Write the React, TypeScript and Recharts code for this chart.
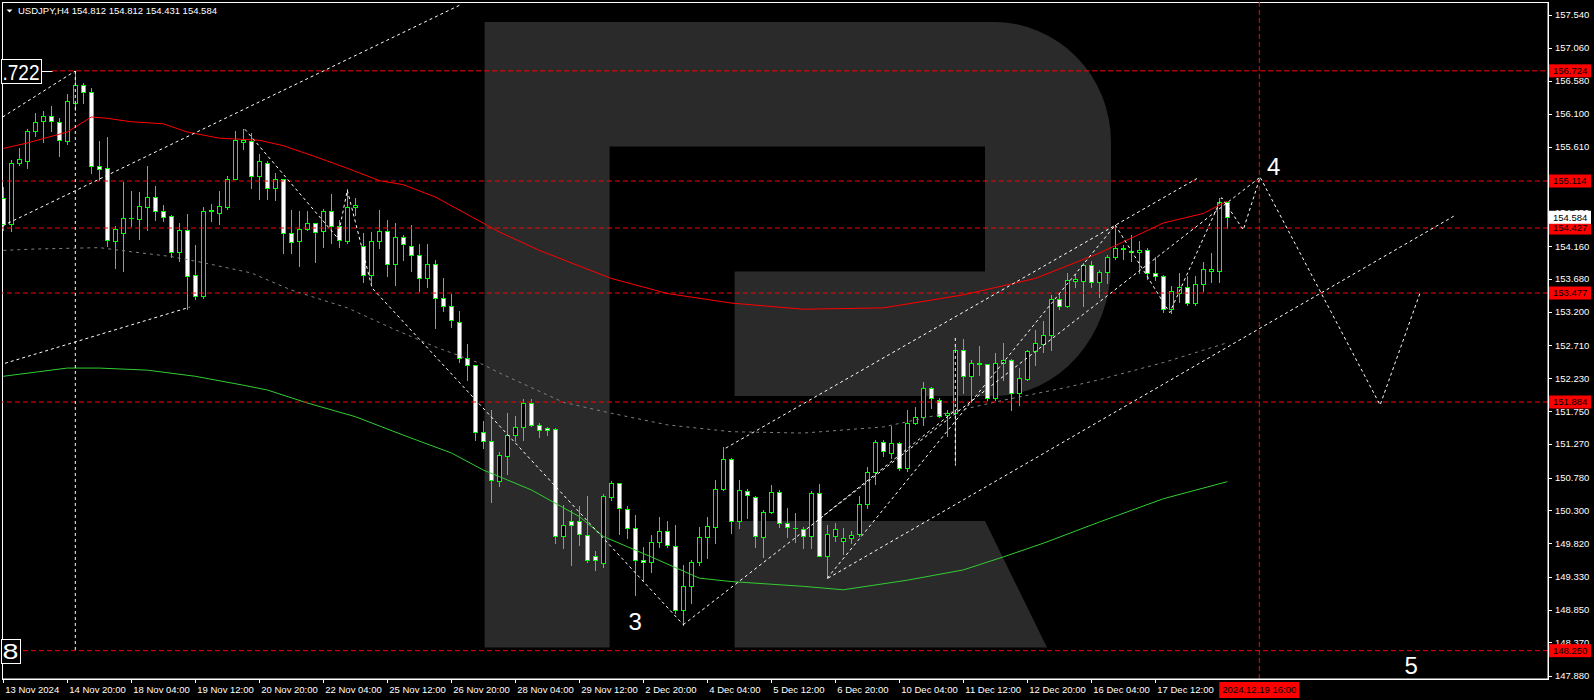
import React from 'react';
import { ComposedChart, Bar, Line, XAxis, YAxis, ReferenceLine, ReferenceDot } from 'recharts';

const FONT = "'Liberation Sans', Arial, sans-serif";
const LIME = '#00ff00';

// USDJPY H4 candles (bar 0 = 13 Nov 2024 16:00)
const opens = [
  154.86, 154.48, 155.37, 155.41, 155.84, 155.99, 156.07, 155.98, 155.70, 156.26,
  156.51, 156.42, 155.34, 155.30, 154.24, 154.35, 154.57, 154.56, 154.74, 154.88,
  154.67, 154.60, 154.08, 154.40, 153.74, 153.44, 154.67, 154.64, 154.74, 155.15,
  155.69, 155.70, 155.18, 155.37, 155.01, 155.14, 154.36, 154.23, 154.41, 154.50,
  154.39, 154.67, 154.46, 154.24, 154.73, 154.17, 153.74, 154.23, 154.39, 153.90,
  154.29, 154.17, 154.03, 153.69, 153.90, 153.40, 153.29, 153.06, 152.52, 152.42,
  151.45, 151.31, 150.73, 151.10, 151.40, 151.52, 151.87, 151.55, 151.50, 151.49,
  149.92, 150.14, 150.14, 149.94, 149.64, 149.53, 150.50, 150.70, 150.32, 150.05,
  149.57, 149.54, 149.84, 150.00, 149.78, 148.84, 149.19, 149.55, 149.91, 150.06,
  150.61, 151.05, 150.14, 150.59, 150.50, 149.91, 150.28, 150.57, 150.11, 150.05,
  150.03, 149.93, 150.55, 149.64, 149.93, 149.86, 149.89, 149.95, 150.39, 150.86,
  151.30, 151.14, 151.29, 150.92, 151.57, 151.66, 152.09, 151.92, 151.69, 151.73,
  152.65, 152.26, 152.44, 152.44, 151.94, 152.46, 152.50, 152.01, 152.22, 152.63,
  152.73, 152.86, 153.39, 153.28, 153.65, 153.65, 153.88, 153.64, 153.78, 154.00,
  154.12, 154.08, 154.08, 154.10, 153.77, 153.73, 153.24, 153.47, 153.56, 153.33,
  153.61, 153.80, 153.80, 154.812,
];
const highs = [
  155.03, 155.42, 155.59, 155.88, 156.11, 156.13, 156.21, 156.04, 156.39, 156.72,
  156.54, 156.47, 155.70, 155.75, 154.46, 155.10, 154.97, 154.96, 155.33, 155.04,
  154.76, 154.62, 154.50, 154.63, 154.18, 154.74, 154.78, 154.97, 155.19, 155.84,
  155.88, 155.81, 155.51, 155.41, 155.23, 155.15, 154.69, 154.68, 154.67, 154.50,
  154.71, 154.92, 154.54, 154.99, 154.86, 154.35, 154.37, 154.69, 154.54, 154.50,
  154.32, 154.47, 154.19, 154.19, 153.96, 153.69, 153.46, 153.21, 152.73, 152.42,
  151.60, 151.77, 151.16, 151.72, 151.68, 151.93, 151.93, 151.58, 151.52, 151.51,
  150.38, 150.31, 150.36, 150.51, 149.70, 150.54, 150.73, 150.70, 150.36, 150.23,
  149.77, 149.94, 150.21, 150.15, 150.09, 149.50, 149.57, 150.06, 150.21, 150.75,
  151.22, 151.06, 150.75, 150.61, 150.51, 150.30, 150.67, 150.60, 150.33, 150.26,
  150.06, 150.58, 150.69, 150.09, 150.11, 150.04, 150.00, 150.51, 150.94, 151.33,
  151.33, 151.54, 151.30, 151.77, 151.81, 152.17, 152.11, 151.94, 151.77, 152.69,
  152.81, 152.50, 152.70, 152.44, 152.60, 152.74, 152.51, 152.38, 152.65, 152.94,
  153.07, 153.45, 153.48, 153.77, 153.76, 153.91, 153.95, 153.81, 154.03, 154.47,
  154.18, 154.32, 154.24, 154.14, 154.00, 153.74, 153.58, 153.77, 153.72, 153.72,
  153.93, 154.06, 154.87, 154.812,
];
const lows = [
  154.40, 154.38, 155.35, 155.30, 155.77, 155.68, 155.85, 155.48, 155.66, 156.15,
  156.25, 155.23, 155.13, 154.16, 153.84, 153.80, 154.45, 154.27, 154.40, 154.55,
  154.53, 154.00, 153.94, 153.24, 153.39, 153.41, 154.53, 154.49, 154.70, 155.14,
  155.58, 155.01, 154.85, 154.85, 154.84, 154.06, 154.06, 153.87, 154.40, 153.93,
  154.15, 154.21, 154.15, 154.21, 154.62, 153.64, 153.62, 154.13, 153.73, 153.60,
  153.96, 153.80, 153.51, 153.57, 152.96, 153.22, 152.98, 152.47, 152.21, 151.33,
  151.21, 150.43, 150.65, 150.83, 151.32, 151.33, 151.54, 151.38, 151.40, 149.83,
  149.75, 149.50, 149.80, 149.55, 149.43, 149.47, 150.45, 149.96, 149.89, 149.06,
  149.28, 149.40, 149.77, 149.77, 148.80, 148.63, 148.94, 149.50, 149.61, 149.82,
  150.60, 149.97, 150.04, 150.19, 149.77, 149.62, 150.26, 150.06, 149.91, 149.84,
  149.75, 149.75, 149.63, 149.31, 149.86, 149.66, 149.82, 149.93, 150.33, 150.69,
  151.10, 151.06, 150.89, 150.87, 151.56, 151.55, 151.79, 151.67, 151.39, 150.97,
  152.02, 151.89, 152.28, 151.91, 151.91, 152.21, 151.77, 151.84, 152.21, 152.43,
  152.62, 152.64, 153.24, 153.27, 153.57, 153.29, 153.57, 153.42, 153.62, 153.98,
  153.98, 153.94, 153.77, 153.68, 153.67, 153.20, 153.18, 153.34, 153.30, 153.30,
  153.51, 153.64, 153.64, 154.431,
];
const closes = [
  154.49, 155.38, 155.43, 155.84, 155.98, 156.07, 155.99, 155.71, 156.28, 156.51,
  156.42, 155.34, 155.29, 154.25, 154.41, 154.57, 154.58, 154.75, 154.88, 154.67,
  154.59, 154.08, 154.40, 153.73, 153.44, 154.68, 154.69, 154.75, 155.15, 155.72,
  155.72, 155.18, 155.41, 155.01, 155.15, 154.36, 154.22, 154.41, 154.50, 154.37,
  154.67, 154.46, 154.25, 154.73, 154.76, 153.74, 154.24, 154.39, 153.90, 154.29,
  154.19, 154.03, 153.69, 153.90, 153.40, 153.29, 153.08, 152.52, 152.42, 151.45,
  151.31, 150.74, 151.11, 151.40, 151.52, 151.87, 151.55, 151.47, 151.47, 149.93,
  150.08, 150.08, 149.95, 149.57, 149.57, 150.51, 150.70, 150.33, 150.05, 149.57,
  149.54, 149.84, 150.00, 149.79, 148.84, 149.19, 149.55, 149.91, 150.07, 150.61,
  151.05, 150.14, 150.60, 150.53, 149.92, 150.28, 150.57, 150.11, 150.06, 150.04,
  149.93, 150.55, 149.64, 149.95, 150.03, 149.89, 149.94, 150.39, 150.86, 151.30,
  151.17, 151.29, 150.92, 151.57, 151.66, 152.09, 151.94, 151.68, 151.73, 152.65,
  152.26, 152.46, 152.46, 151.94, 152.46, 152.50, 152.01, 152.23, 152.63, 152.74,
  152.86, 153.39, 153.28, 153.67, 153.68, 153.88, 153.64, 153.78, 154.00, 154.13,
  154.13, 154.09, 154.11, 153.77, 153.73, 153.24, 153.51, 153.56, 153.33, 153.61,
  153.83, 153.83, 154.80, 154.584,
];

// time axis
const timeTicks = [0, 8, 16, 24, 32, 40, 48, 56, 64, 72, 80, 88, 96, 104, 112, 120, 128, 136, 144];
const timeLabels = [
  '13 Nov 2024', '14 Nov 20:00', '18 Nov 04:00', '19 Nov 12:00', '20 Nov 20:00', '22 Nov 04:00',
  '25 Nov 12:00', '26 Nov 20:00', '28 Nov 04:00', '29 Nov 12:00', '2 Dec 20:00', '4 Dec 04:00',
  '5 Dec 12:00', '6 Dec 20:00', '10 Dec 04:00', '11 Dec 12:00', '12 Dec 20:00', '16 Dec 04:00',
  '17 Dec 12:00',
];
const futureBar = 157;
const futureLabel = '2024.12.19 16:00';

// price axis
const priceTicks = [
  157.54, 157.06, 156.58, 156.1, 155.61, 154.65, 154.16, 153.68, 153.2, 152.71,
  152.23, 151.75, 151.27, 150.78, 150.3, 149.82, 149.33, 148.85, 148.37, 147.88,
];
const levels = [156.724, 155.114, 154.427, 153.477, 151.884, 148.25];
const lastPrice = 154.584;

// moving averages (bar index, value)
const redMaBars = [0, 3, 8, 11, 13, 16, 20, 23, 27, 32, 35, 39, 43, 47, 50, 54, 62, 67, 76, 83, 91, 100, 110, 120, 129, 137, 145, 150, 153];
const redMaVals = [155.59, 155.67, 155.83, 156.05, 156.03, 155.98, 155.95, 155.83, 155.74, 155.71, 155.63, 155.47, 155.30, 155.12, 155.06, 154.88, 154.37, 154.10, 153.69, 153.47, 153.33, 153.24, 153.26, 153.45, 153.69, 154.06, 154.50, 154.64, 154.82];
const greyMaBars = [0, 4, 12, 16, 21, 25, 31, 36, 43, 49, 54, 60, 62, 70, 76, 83, 91, 100, 110, 119, 125, 133, 137, 145, 153];
const greyMaVals = [154.10, 154.12, 154.14, 154.08, 154.01, 153.92, 153.77, 153.52, 153.26, 152.94, 152.69, 152.43, 152.31, 151.88, 151.72, 151.55, 151.45, 151.43, 151.52, 151.75, 151.91, 152.10, 152.21, 152.46, 152.75];
const greenMaBars = [0, 8, 12, 18, 24, 30, 33, 38, 44, 50, 56, 60, 66, 72, 75, 81, 87, 91, 100, 105, 113, 120, 125, 130, 137, 145, 153];
const greenMaVals = [152.26, 152.38, 152.38, 152.35, 152.26, 152.13, 152.06, 151.87, 151.67, 151.40, 151.14, 150.89, 150.60, 150.21, 149.92, 149.62, 149.31, 149.26, 149.19, 149.14, 149.28, 149.43, 149.62, 149.82, 150.13, 150.47, 150.72];

// analyst's dotted wave lines [bar, price]
const channelTop = [[-0.075, 154.46], [57.34, 157.70]];
const channelLow = [[0.21, 152.45], [23.3, 153.27]];
const legToHigh = [[-0.075, 156.05], [9, 156.722]];
const highDrop = [[9, 156.722], [9, 148.25]];
const wave3Path = [[30.2, 155.87], [41.8, 154.28], [43, 154.98], [46.1, 153.55], [85, 148.63]];
const lowToTarget = [[85, 148.63], [157.1, 155.17]];
const riseTop = [[90.3, 151.21], [149.5, 155.17]];
const riseLow = [[103.1, 149.31], [181.3, 154.60]];
const riseInner = [[103, 149.31], [139, 154.47]];
const riseInner2 = [[102.6, 150.23], [119.2, 151.78]];
const spikeMark = [[119, 152.82], [119, 150.97]];
const wave45Path = [[139, 154.47], [145.8, 153.19], [152.3, 154.87], [155, 154.40], [157.1, 155.17], [172.1, 151.84], [177.1, 153.48]];

const waveLines = [channelTop, channelLow, legToHigh, highDrop, wave3Path, lowToTarget, riseTop, riseLow, riseInner, riseInner2, spikeMark, wave45Path];

const bars = opens.map((o, i) => ({ i, o, h: highs[i], l: lows[i], c: closes[i] }));
const pts = (xs: number[], vs: number[]) => xs.map((x, k) => ({ i: x, v: vs[k] }));
const pairs = (arr: number[][]) => arr.map(([i, v]) => ({ i, v }));

const Candle = (props: any) => {
  const { x, y, width, height, payload } = props;
  if (height == null || !payload) return null;
  const { o, h, l, c } = payload;
  const k = height / (h - l);
  const cx = Math.round(x + width / 2) + 0.5;
  const yO = y + (h - o) * k;
  const yC = y + (h - c) * k;
  const top = Math.round(Math.min(yO, yC)) + 0.5;
  const bot = Math.round(Math.max(yO, yC)) + 0.5;
  const bull = c >= o;
  return (
    <g>
      <line x1={cx} x2={cx} y1={Math.round(y)} y2={Math.round(y + height) + 1} stroke={LIME} />
      {bot - top < 1 ? (
        <line x1={cx - 2.5} x2={cx + 2.5} y1={top} y2={top} stroke={LIME} />
      ) : (
        <rect x={cx - 2} y={top} width={4} height={bot - top} fill={bull ? '#000' : '#fff'} stroke={LIME} />
      )}
    </g>
  );
};

const YTick = (props: any) => {
  const { x, y, payload } = props;
  const v = payload.value;
  const ax = x - 6;
  if (levels.includes(v) || v === lastPrice) {
    const isLast = v === lastPrice;
    return (
      <g>
        <rect x={ax + 1} y={y - 6.5} width={42} height={13} fill={isLast ? '#fff' : '#ff0000'} />
        <text x={ax + 5} y={y} dy="0.35em" fontSize={9.5} fontFamily={FONT} fill="#000">{v.toFixed(3)}</text>
      </g>
    );
  }
  return (
    <g>
      <line x1={ax} x2={ax + 4} y1={Math.round(y) + 0.5} y2={Math.round(y) + 0.5} stroke="#fff" />
      <text x={ax + 7} y={y} dy="0.35em" fontSize={9.5} fontFamily={FONT} fill="#fff">{v.toFixed(3)}</text>
    </g>
  );
};

const XTick = (props: any) => {
  const { x, y, payload } = props;
  const v = payload.value;
  const ay = y - 6;
  if (v === futureBar) {
    return (
      <g>
        <rect x={x - 40} y={ay + 3} width={80} height={16} fill="#ff0000" />
        <text x={x} y={ay + 11} dy="0.35em" textAnchor="middle" fontSize={9.5} fontFamily={FONT} fill="#000">{futureLabel}</text>
      </g>
    );
  }
  const px = Math.round(x) + 0.5;
  return (
    <g>
      <line x1={px} x2={px} y1={ay} y2={ay + 4} stroke="#fff" />
      <text x={x + 2} y={ay + 11} dy="0.35em" fontSize={9.5} fontFamily={FONT} fill="#fff">{timeLabels[timeTicks.indexOf(v)]}</text>
    </g>
  );
};

const leftTag = (text: string, w: number, tail: number) => (props: any) => {
  const { cx, cy } = props;
  const x0 = Math.round(cx) - 1.5;
  const y0 = Math.round(cy) - 11.5;
  return (
    <g>
      <rect x={x0} y={y0} width={w} height={24} fill="#000" stroke="#fff" />
      <text x={x0 + 1} y={cy + 1} dy="0.35em" fontSize={22} fontFamily={FONT} fill="#fff" textLength={w - 3} lengthAdjust="spacingAndGlyphs">{text}</text>
      {tail > 0 && <line x1={x0 + w} x2={x0 + w + tail} y1={Math.round(cy) + 0.5} y2={Math.round(cy) + 0.5} stroke="#fff" />}
    </g>
  );
};

const waveNumber = (text: string) => (props: any) => (
  <text x={props.cx} y={props.cy} dy="0.35em" textAnchor="middle" fontSize={24} fontFamily={FONT} fill="#fff">{text}</text>
);

const App: React.FC = () => {
  return (
    <div style={{ position: 'fixed', left: 0, top: 0, width: 1594, height: 700, background: '#000', overflow: 'hidden' }}>
      <svg width={1594} height={700} style={{ position: 'absolute', left: 0, top: 0 }}>
        <g fill="#2a2a2a">
          <path d="M484.6,22 H994 A117,120 0 0 1 1111,142 V264 A117,132 0 0 1 994,396 H734.6 V271.5 H985 V146.5 H609.6 V647.6 H484.6 Z" />
          <path d="M734.6,521 H985 L1047,647.6 H734.6 Z" />
        </g>
        <rect x={2.5} y={2.5} width={1546} height={677} fill="none" stroke="#fff" />
      </svg>
      <div style={{ position: 'absolute', left: 0, top: 0 }}>
        <ComposedChart width={1594} height={700} data={bars} margin={{ top: 2, right: 0, left: 2, bottom: 0 }}>
          <XAxis
            dataKey="i"
            type="number"
            domain={[-0.1625, 193.0875]}
            allowDataOverflow
            ticks={[...timeTicks, futureBar]}
            interval={0}
            tick={<XTick />}
            tickLine={false}
            tickSize={4}
            tickMargin={2}
            axisLine={{ stroke: '#fff' }}
            height={21}
          />
          <YAxis
            type="number"
            orientation="right"
            domain={[147.836, 157.73]}
            allowDataOverflow
            ticks={[...priceTicks, ...levels, lastPrice]}
            interval={0}
            tick={<YTick />}
            tickLine={false}
            tickSize={4}
            tickMargin={2}
            axisLine={{ stroke: '#fff' }}
            width={46}
          />
          <Line data={pts(greyMaBars, greyMaVals)} dataKey="v" stroke="#808080" strokeDasharray="3 4" dot={false} isAnimationActive={false} />
          <Line data={pts(redMaBars, redMaVals)} dataKey="v" stroke="#ff0000" dot={false} isAnimationActive={false} />
          <Line data={pts(greenMaBars, greenMaVals)} dataKey="v" stroke="#32cd32" dot={false} isAnimationActive={false} />
          <Bar dataKey={(d: any) => [d.l, d.h]} barSize={5} shape={<Candle />} isAnimationActive={false} />
          {levels.map((p) =>
            p === 156.724 ? (
              <ReferenceLine key={p} segment={[{ x: 6.1, y: p }, { x: 193.0875, y: p }]} stroke="#ff0000" strokeDasharray="5 3" />
            ) : (
              <ReferenceLine key={p} y={p} stroke="#ff0000" strokeDasharray="5 3" />
            )
          )}
          <ReferenceLine x={futureBar} stroke="#ff0000" strokeDasharray="5 3" />
          {waveLines.map((w, k) => (
            <Line key={`w${k}`} data={pairs(w)} dataKey="v" stroke="#ffffff" strokeDasharray="3 3" dot={false} isAnimationActive={false} />
          ))}
          <ReferenceDot x={0} y={156.722} shape={leftTag('.722', 40, 11)} />
          <ReferenceDot x={0} y={148.25} shape={leftTag('8', 19, 0)} />
          <ReferenceDot x={79} y={148.67} shape={waveNumber('3')} />
          <ReferenceDot x={158.8} y={155.32} shape={waveNumber('4')} />
          <ReferenceDot x={176} y={148.03} shape={waveNumber('5')} />
        </ComposedChart>
      </div>
      <svg width={400} height={20} style={{ position: 'absolute', left: 0, top: 0 }}>
        <polygon points="6.5,9.5 12.5,9.5 9.5,12.5" fill="#fff" />
        <text x={18} y={14} fontSize={9.5} fontFamily={FONT} fill="#fff">
          USDJPY,H4  154.812 154.812 154.431 154.584
        </text>
      </svg>
    </div>
  );
};

export default App;
